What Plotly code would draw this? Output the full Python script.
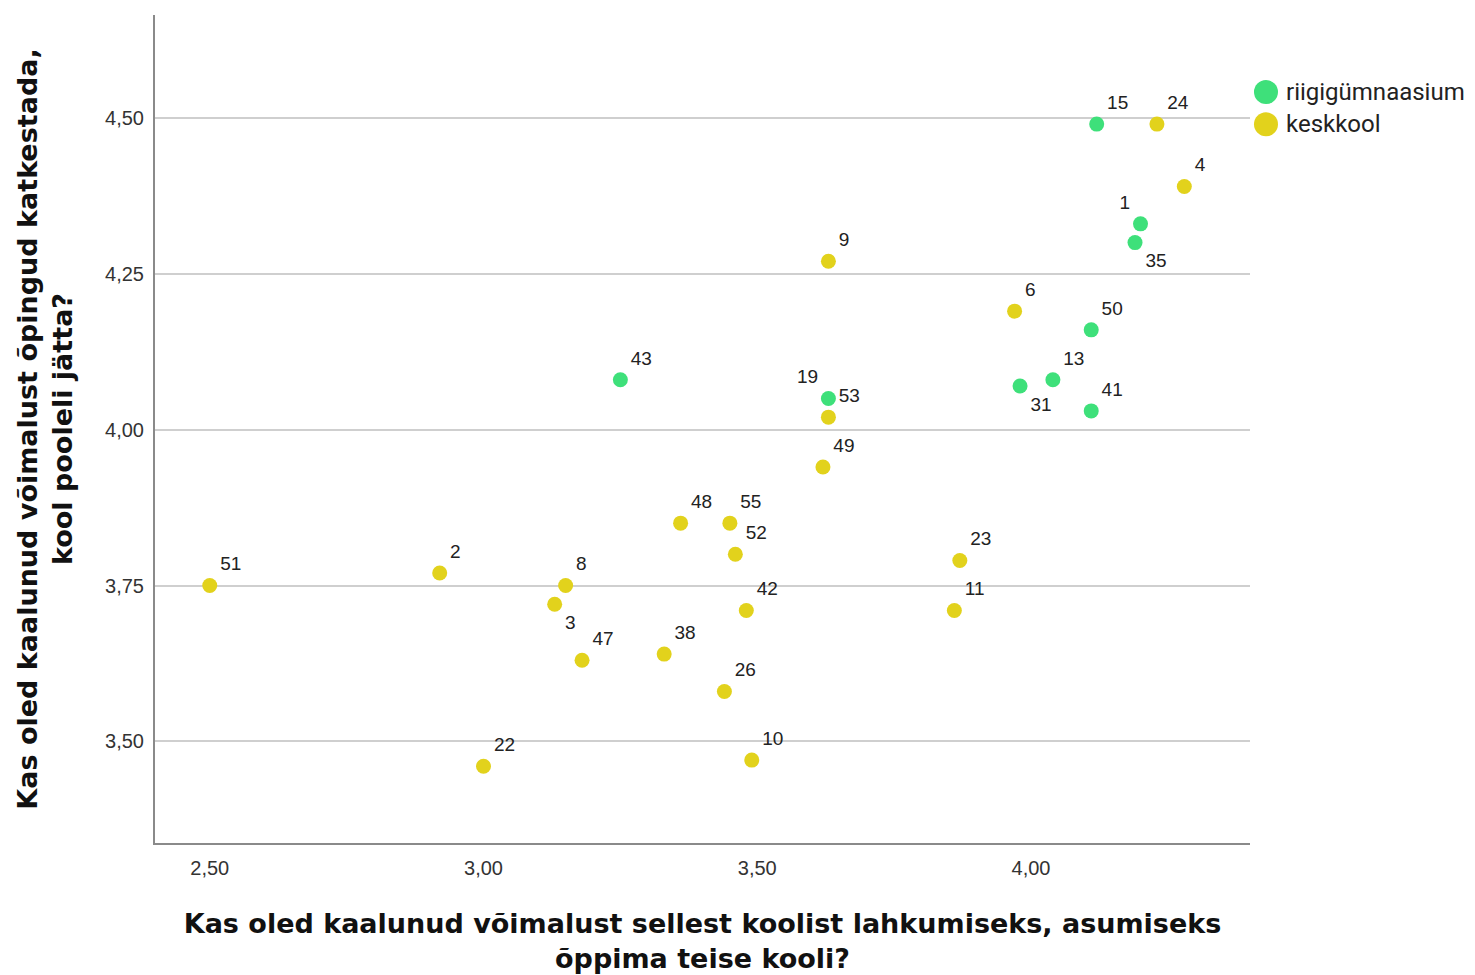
import plotly.graph_objects as go

# riigigümnaasium (green)
riigi_ids = ["15", "1", "35", "50", "13", "31", "41", "43", "19"]
riigi_x = [4.12, 4.20, 4.19, 4.11, 4.04, 3.98, 4.11, 3.25, 3.63]
riigi_y = [4.49, 4.33, 4.30, 4.16, 4.08, 4.07, 4.03, 4.08, 4.05]
riigi_pos = ["top right", "top left", "bottom right", "top right", "top right",
             "bottom right", "top right", "top right", "top left"]

# keskkool (yellow)
kesk_ids = ["24", "4", "9", "6", "53", "49", "48", "55", "52", "23", "11", "42",
            "51", "2", "8", "3", "47", "38", "26", "22", "10"]
kesk_x = [4.23, 4.28, 3.63, 3.97, 3.63, 3.62, 3.36, 3.45, 3.46, 3.87, 3.86, 3.48,
          2.50, 2.92, 3.15, 3.13, 3.18, 3.33, 3.44, 3.00, 3.49]
kesk_y = [4.49, 4.39, 4.27, 4.19, 4.02, 3.94, 3.85, 3.85, 3.80, 3.79, 3.71, 3.71,
          3.75, 3.77, 3.75, 3.72, 3.63, 3.64, 3.58, 3.46, 3.47]
kesk_pos = ["top right"] * len(kesk_ids)
kesk_pos[kesk_ids.index("3")] = "bottom right"

legend_names = ["riigigümnaasium", "keskkool"]

x_title = "Kas oled kaalunud võimalust sellest koolist lahkumiseks, asumiseks<br>õppima teise kooli?"
y_title = "Kas oled kaalunud võimalust õpingud katkestada,<br>kool pooleli jätta?"

GREEN = "#3ee07a"
YELLOW = "#e2d21c"
label_font = dict(family="Arial, Liberation Sans", size=19, color="#222")
title_font = dict(family="DejaVu Sans", size=27, weight="bold", color="#111")

fig = go.Figure()
fig.add_trace(go.Scatter(x=riigi_x, y=riigi_y, text=riigi_ids, mode="markers+text",
                         textposition=riigi_pos, name=legend_names[0],
                         marker=dict(color=GREEN, size=15), textfont=label_font))
fig.add_trace(go.Scatter(x=kesk_x, y=kesk_y, text=kesk_ids, mode="markers+text",
                         textposition=kesk_pos, name=legend_names[1],
                         marker=dict(color=YELLOW, size=15), textfont=label_font))

# big legend circles like the SPSS output (plotly caps legend marker size)
for name, col, yy in zip(legend_names, [GREEN, YELLOW], [0.907, 0.868]):
    fig.add_shape(type="circle", xref="paper", yref="paper",
                  xsizemode="pixel", ysizemode="pixel", xanchor=1.0146, yanchor=yy,
                  x0=-12, x1=12, y0=-12, y1=12, fillcolor=col, line_width=0)
    fig.add_annotation(x=1.031, y=yy, xref="paper", yref="paper", text=name,
                       showarrow=False, xanchor="left", yanchor="middle",
                       font=dict(family="Roboto", size=24, color="#222"))

fig.update_layout(
    width=1467, height=967,
    plot_bgcolor="white", paper_bgcolor="white",
    margin=dict(l=147, r=225, t=7, b=132),
    separators=",.",
    showlegend=False,
    font=dict(family="Arial, Liberation Sans", color="#222"),
)
fig.update_xaxes(range=[2.40, 4.40], tickvals=[2.5, 3.0, 3.5, 4.0], tickformat=".2f",
                 showgrid=False, zeroline=False, showline=True, linecolor="#8a8a8a",
                 linewidth=2, ticks="", ticklabelstandoff=6,
                 tickfont=dict(size=20, color="#333"),
                 title=dict(text=x_title, font=title_font, standoff=36))
fig.update_yaxes(range=[3.337, 4.665], tickvals=[3.5, 3.75, 4.0, 4.25, 4.5], tickformat=".2f",
                 showgrid=True, gridcolor="#cfcfcf", gridwidth=2, zeroline=False,
                 showline=True, linecolor="#8a8a8a", linewidth=2, ticks="",
                 ticklabelstandoff=5, tickfont=dict(size=20, color="#333"),
                 title=dict(text=y_title, font=title_font, standoff=25))

fig.write_html("out.html")
